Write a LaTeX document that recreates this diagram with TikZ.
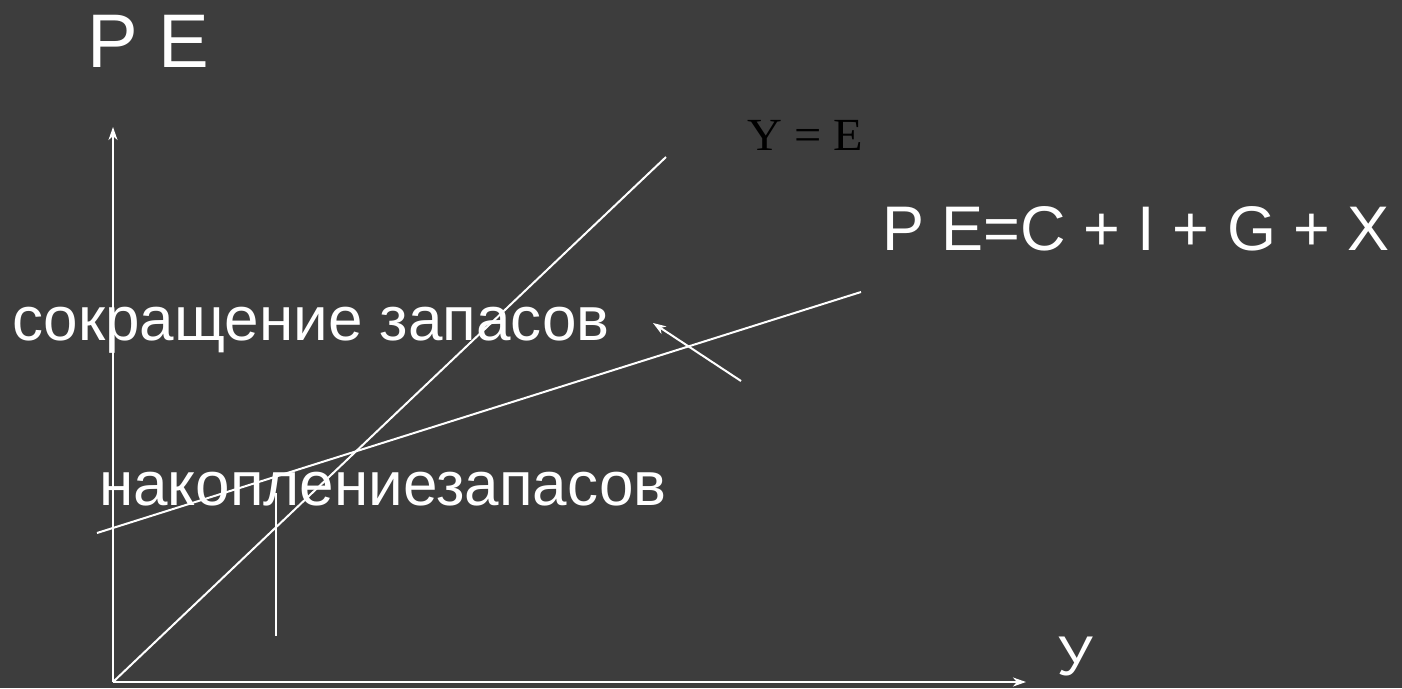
\documentclass[tikz,border=0pt]{standalone}
\usepackage{fontspec}
\setmainfont{Liberation Sans}
\newfontfamily\timesfont{Liberation Serif}
\usetikzlibrary{arrows.meta}

\definecolor{slide}{RGB}{61,61,61}
\tikzset{
  axisline/.style={white, line width=2pt, -{Stealth[length=13pt, width=9pt, inset=4pt]}},
  curve/.style={white, line width=2pt},
  biglabel/.style={white, anchor=base west, inner sep=0pt, font=\fontsize{62}{74}\selectfont}
}

\begin{document}
\begin{tikzpicture}[x=1pt, y=-1pt]
\fill[slide] (0,0) rectangle (1402,688);
\useasboundingbox (0,0) rectangle (1402,688);

% axes
\path (113,682) coordinate (o);
\path (113,127) coordinate (ytip);
\path (1026,682) coordinate (xtip);
\draw[axisline] (o) -- (ytip);
\draw[axisline] (o) -- (xtip);

% Y = E and planned expenditure
\path (666,157) coordinate (ye);
\path (97,533) coordinate (pe0);
\path (861,292) coordinate (pe1);
\draw[curve] (o) -- (ye);
\draw[curve] (pe0) -- (pe1);

\path (276,493) coordinate (v0);
\path (276,636) coordinate (v1);
\draw[curve] (v0) -- (v1);

\path (741,381) coordinate (a0);
\path (653,323) coordinate (a1);
\draw[axisline] (a0) -- (a1);

% labels
\node[biglabel, font=\fontsize{76}{90}\selectfont] (pelabel) at (87,67) {P E};
\node[anchor=base west, inner sep=0pt, xscale=1.05, font=\timesfont\fontsize{46}{54}\selectfont] (yelabel) at (747,150) {Y = E};
\node[biglabel, font=\fontsize{63}{75}\selectfont] (formula) at (882,250) {P E=C + I + G + X};
\node[biglabel] (cut) at (12,340) {сокращение запасов};
\node[biglabel] (acc) at (99,505) {накоплениезапасов};
\node[biglabel, font=\fontsize{56}{66}\selectfont] (ylabel) at (1057,675) {У};
\end{tikzpicture}
\end{document}
